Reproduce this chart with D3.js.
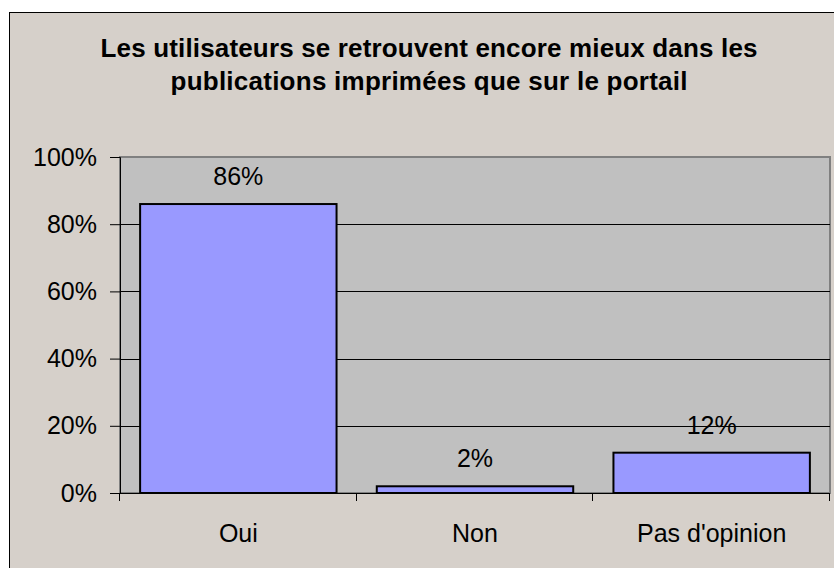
<!DOCTYPE html>
<html>
<head>
<meta charset="utf-8">
<script src="https://cdn.jsdelivr.net/npm/d3@7"></script>
<style>
  body { margin: 0; background: #fff; }
  text { font-family: Arial, 'Liberation Sans', sans-serif; fill: #000; }
</style>
</head>
<body>
<div id="chart"></div>
<script>
const width = 834
const height = 568
const fontSize = 25

const titleLines = [
  'Les utilisateurs se retrouvent encore mieux dans les',
  'publications imprimées que sur le portail'
]
const categories = ['Oui', 'Non', "Pas d'opinion"]
const values = [86, 2, 12]
const yTicks = [0, 20, 40, 60, 80, 100]

const plot = { left: 120, right: 830, top: 157, bottom: 493 }

const svg = d3
  .select('#chart')
  .append('svg')
  .attr('width', width)
  .attr('height', height)

// outer chart frame
svg
  .append('rect')
  .attr('x', 9.5)
  .attr('y', 12.5)
  .attr('width', width)
  .attr('height', height)
  .style('fill', '#d6d0ca')
  .style('stroke', '#000')
  .style('stroke-width', 1)

// title (widths stretched to match the original spacing)
const titleWidths = [657, 517]
svg
  .append('g')
  .selectAll('text')
  .data(titleLines)
  .enter()
  .append('text')
  .attr('x', (d, i) => 429 - titleWidths[i] / 2)
  .attr('y', (d, i) => 57 + i * 33)
  .attr('textLength', (d, i) => titleWidths[i])
  .attr('lengthAdjust', 'spacing')
  .style('font-size', '26px')
  .style('font-weight', 'bold')
  .text(d => d)

const x = d3
  .scaleBand()
  .domain(categories)
  .range([plot.left, plot.right])
  .paddingInner(0.17)
  .paddingOuter(0.085)

const y = d3.scaleLinear().domain([0, 100]).range([plot.bottom, plot.top])

// plot area
svg
  .append('rect')
  .attr('x', plot.left)
  .attr('y', plot.top)
  .attr('width', plot.right - plot.left)
  .attr('height', plot.bottom - plot.top)
  .style('fill', '#c0c0c0')
  .style('stroke', '#808080')
  .style('stroke-width', 2)

// gridlines
svg
  .append('g')
  .selectAll('line')
  .data(yTicks.filter(t => t > 0 && t < 100))
  .enter()
  .append('line')
  .attr('x1', plot.left)
  .attr('x2', plot.right)
  .attr('y1', d => Math.round(y(d)) + 0.5)
  .attr('y2', d => Math.round(y(d)) + 0.5)
  .style('stroke', '#000')
  .style('stroke-width', 1)

// bars
svg
  .append('g')
  .selectAll('rect')
  .data(values)
  .enter()
  .append('rect')
  .attr('x', (d, i) => x(categories[i]))
  .attr('y', d => y(d))
  .attr('width', x.bandwidth())
  .attr('height', d => plot.bottom - y(d))
  .style('fill', '#9999ff')
  .style('stroke', '#000')
  .style('stroke-width', 2)

// value labels
svg
  .append('g')
  .selectAll('text')
  .data(values)
  .enter()
  .append('text')
  .attr('x', (d, i) => x(categories[i]) + x.bandwidth() / 2)
  .attr('y', d => y(d) - 19)
  .attr('text-anchor', 'middle')
  .style('font-size', fontSize + 'px')
  .text(d => d + '%')

// y axis
const yAxis = svg
  .append('g')
  .attr('transform', `translate(${plot.left},0)`)
  .call(
    d3
      .axisLeft(y)
      .tickValues(yTicks)
      .tickSize(10)
      .tickPadding(13)
      .tickFormat(d => d + '%')
  )
yAxis.select('.domain').style('stroke', '#000')
yAxis
  .selectAll('text')
  .style('font-size', fontSize + 'px')
  .style('font-family', 'Arial, Liberation Sans, sans-serif')

// x axis
const xTickPos = d3
  .range(categories.length + 1)
  .map(i => plot.left + (i * (plot.right - plot.left)) / categories.length)
const xAxis = svg.append('g')
xAxis
  .append('line')
  .attr('x1', plot.left)
  .attr('x2', plot.right)
  .attr('y1', plot.bottom + 0.5)
  .attr('y2', plot.bottom + 0.5)
  .style('stroke', '#000')
xAxis
  .selectAll('.xtick')
  .data(xTickPos)
  .enter()
  .append('line')
  .attr('class', 'xtick')
  .attr('x1', d => Math.round(d) - 0.5)
  .attr('x2', d => Math.round(d) - 0.5)
  .attr('y1', plot.bottom)
  .attr('y2', plot.bottom + 8)
  .style('stroke', '#000')
xAxis
  .selectAll('text')
  .data(categories)
  .enter()
  .append('text')
  .attr('x', d => x(d) + x.bandwidth() / 2)
  .attr('y', 542)
  .attr('text-anchor', 'middle')
  .style('font-size', fontSize + 'px')
  .text(d => d)
</script>
</body>
</html>
